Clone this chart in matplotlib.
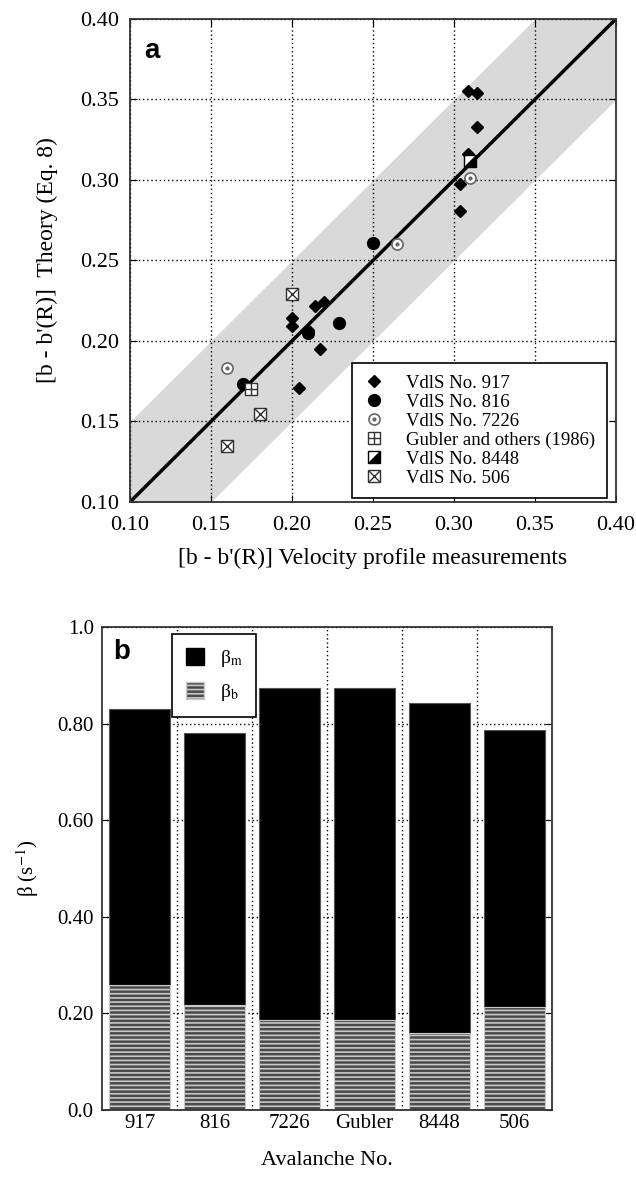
import numpy as np
import matplotlib
matplotlib.use("Agg")
import matplotlib.pyplot as plt
from matplotlib.patches import Patch

plt.rcParams['font.family'] = ['Liberation Serif', 'DejaVu Serif']
plt.rcParams['mathtext.fontset'] = 'stix'
plt.rcParams['hatch.linewidth'] = 1.2

# panel a: measured vs theory
x_917 = [0.200, 0.200, 0.214, 0.220, 0.210, 0.217, 0.2045, 0.3085, 0.314, 0.314, 0.3085, 0.3037, 0.3037]
y_917 = [0.214, 0.209, 0.222, 0.224, 0.207, 0.195, 0.171, 0.3555, 0.354, 0.333, 0.316, 0.2975, 0.281]
x_816 = [0.170, 0.210, 0.229, 0.250]
y_816 = [0.173, 0.205, 0.211, 0.261]
x_7226 = [0.160, 0.265, 0.310]
y_7226 = [0.183, 0.260, 0.301]
x_gubler = [0.175]
y_gubler = [0.170]
x_8448 = [0.310]
y_8448 = [0.312]
x_506 = [0.160, 0.180, 0.200]
y_506 = [0.135, 0.1545, 0.229]
band = 0.05

# panel b: beta values
avalanches = ["917", "816", "7226", "Gubler", "8448", "506"]
beta_b = [0.258, 0.218, 0.187, 0.187, 0.160, 0.214]
beta_m = [0.572, 0.562, 0.686, 0.686, 0.682, 0.572]

fig = plt.figure(figsize=(6.36, 11.77), dpi=100)

# ---------- panel a ----------
ax = fig.add_axes([0.2044, 0.5735, 0.764, 0.4104])
xx = np.array([0.1, 0.4])
ax.fill_between(xx, xx - band, xx + band, color='#d9d9d9', lw=0, zorder=1)
ax.plot(xx, xx, color='black', lw=2.5, zorder=2)

h917, = ax.plot(x_917, y_917, 'D', color='black', ms=6.5, ls='none', zorder=3)
h816, = ax.plot(x_816, y_816, 'o', color='black', ms=8.5, ls='none', zorder=3)
c7226, = ax.plot(x_7226, y_7226, 'o', mfc='white', mec='#666666', mew=1.2, ms=8, ls='none', zorder=3)
d7226, = ax.plot(x_7226, y_7226, 'o', color='#666666', ms=2, ls='none', zorder=3)
sg, = ax.plot(x_gubler, y_gubler, 's', mfc='white', mec='#333333', mew=1, ms=8, ls='none', zorder=3)
pg, = ax.plot(x_gubler, y_gubler, '+', color='#333333', mew=1, ms=8, ls='none', zorder=3)
tri = [(1, 1), (1, -1), (-1, -1), (1, 1)]
s84, = ax.plot(x_8448, y_8448, 's', mfc='white', mec='black', mew=1, ms=8, ls='none', zorder=3)
t84, = ax.plot(x_8448, y_8448, marker=tri, color='black', ms=8, ls='none', zorder=3)
s506, = ax.plot(x_506, y_506, 's', mfc='white', mec='#333333', mew=1, ms=8, ls='none', zorder=3)
x506, = ax.plot(x_506, y_506, 'x', color='#333333', mew=1, ms=8, ls='none', zorder=3)

ax.set_xlim(0.1, 0.4)
ax.set_ylim(0.1, 0.4)
ticks = [0.10, 0.15, 0.20, 0.25, 0.30, 0.35, 0.40]
ax.set_xticks(ticks)
ax.set_yticks(ticks)
ax.set_xticklabels(["%.2f" % t for t in ticks])
ax.set_yticklabels(["%.2f" % t for t in ticks])
ax.set_axisbelow('line')
ax.grid(True, color='black', ls=(0, (1, 2)), lw=1)
ax.tick_params(direction='in', top=True, right=True, length=5, labelsize=16)
ax.tick_params(axis='x', pad=10)
ax.tick_params(axis='y', pad=8)
for s in ax.spines.values():
    s.set_linewidth(1.3)
    s.set_color('#333333')
ax.set_xlabel("[b - b'(R)] Velocity profile measurements", fontsize=17, labelpad=9)
ax.set_ylabel("[b - b'(R)]  Theory (Eq. 8)", fontsize=17, labelpad=16)
ax.text(0.03, 0.96, "a", transform=ax.transAxes, fontsize=20, fontweight='bold',
        family='Liberation Sans', va='top', ha='left')

leg = ax.legend([h917, h816, (c7226, d7226), (sg, pg), (s84, t84), (s506, x506)],
                ["VdlS No. 917", "VdlS No. 816", "VdlS No. 7226",
                 "Gubler and others (1986)", "VdlS No. 8448", "VdlS No. 506"],
                loc='lower right', bbox_to_anchor=(0.981, 0.008), borderaxespad=0,
                fontsize=13.5, fancybox=False, edgecolor='black', framealpha=1,
                handlelength=1.2, labelspacing=0.1, handletextpad=1.1, borderpad=0.6)
leg.get_frame().set_linewidth(1.2)

# ---------- panel b ----------
bx = fig.add_axes([0.1604, 0.0569, 0.7075, 0.4104])
pos = np.arange(len(avalanches))
bx.bar(pos, beta_m, bottom=beta_b, width=0.81, color='black', edgecolor='#555555', lw=0.8, zorder=2)
bx.bar(pos, beta_b, width=0.81, color='#4a4a4a', edgecolor='#c8c8c8', hatch='----', lw=0.8, zorder=2)

bx.set_xlim(-0.5, len(avalanches) - 0.5)
bx.set_ylim(0, 1.0)
bx.set_xticks(pos)
bx.set_xticklabels(avalanches)
bx.set_xticks(pos[:-1] + 0.5, minor=True)
bx.set_yticks([0.0, 0.2, 0.4, 0.6, 0.8, 1.0])
bx.set_yticklabels(["0.0", "0.20", "0.40", "0.60", "0.80", "1.0"])
bx.set_axisbelow(True)
bx.grid(True, axis='y', color='black', ls=(0, (1, 2)), lw=1)
bx.grid(True, axis='x', which='minor', color='black', ls=(0, (1, 2)), lw=1)
bx.tick_params(axis='both', which='major', direction='in', right=True, length=5, labelsize=15)
bx.tick_params(axis='y', pad=6)
bx.tick_params(axis='x', which='major', length=0, pad=3)
bx.tick_params(axis='x', which='minor', length=0)
for s in bx.spines.values():
    s.set_linewidth(1.3)
    s.set_color('#333333')
bx.set_xlabel("Avalanche No.", fontsize=16, labelpad=13)
bx.set_ylabel(r"β (s$^{-1}$)", fontsize=15, labelpad=12)
bx.text(0.025, 0.975, "b", transform=bx.transAxes, fontsize=20, fontweight='bold',
        family='Liberation Sans', va='top', ha='left')

lh = [Patch(facecolor='black', edgecolor='black'),
      Patch(facecolor='#4a4a4a', edgecolor='#c8c8c8', hatch='----')]
leg2 = bx.legend(lh, [r"β$_\mathrm{m}$", r"β$_\mathrm{b}$"], loc='upper left',
                 bbox_to_anchor=(0.156, 0.985), borderaxespad=0, fontsize=14,
                 fancybox=False, edgecolor='black', framealpha=1,
                 handlelength=0.95, handleheight=1.0, labelspacing=0.65,
                 handletextpad=0.8, borderpad=0.7)
leg2.get_frame().set_linewidth(1.2)

fig.savefig("out.png", dpi=100)
